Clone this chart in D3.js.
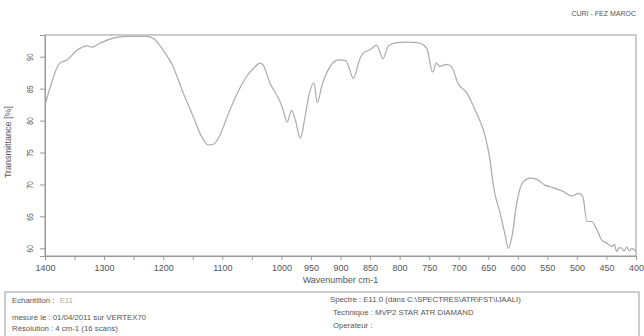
<!DOCTYPE html>
<html><head><meta charset="utf-8">
<script src="https://cdn.jsdelivr.net/npm/d3@7"></script>
<style>
body{margin:0;background:#fff;}
svg text{font-family:"Liberation Sans",Arial,sans-serif;fill:#555;}
</style></head>
<body><svg id="c" width="644" height="336"></svg>
<script>
const wavenumbers = [1400,1391,1375,1363,1346,1329,1321,1307,1285,1262,1228,1217,1200,1183,1166,1149,1135,1124,1115,1104,1093,1076,1059,1047,1036,1031,1019,1002,997,990,983,977,968,960,954,945,939,932,918,904,891,878,868,861,850,839,828,819,805,788,771,765,754,744,738,732,720,712,701,686,672,667,655,647,641,630,622,616,610,602,591,579,568,554,540,523,509,497,490,483,475,466,458,449,441,436,433,428,424,420,416,411,407,402,400];
const transmittance = [82.4,85.3,89.0,89.5,91.0,91.7,91.5,92.1,92.9,93.2,93.2,92.9,91.0,88.4,84.3,80.6,77.5,76.2,76.3,77.7,80.3,84.0,86.9,88.2,89.0,88.7,85.8,82.9,81.6,79.8,81.6,80.3,77.2,80.6,83.7,85.9,82.8,85.3,88.4,89.5,89.4,86.6,89.5,90.6,91.1,91.8,89.7,91.7,92.2,92.3,92.2,92.1,91.3,87.6,89.0,88.5,88.8,88.4,85.8,84.3,81.6,80.6,77.5,73.8,69.6,65.5,62.3,60.0,61.8,67.0,70.4,71.0,70.8,69.9,69.5,68.9,68.2,68.6,68.1,64.2,64.2,62.9,61.3,60.8,60.3,60.6,59.5,60.1,60.0,59.6,60.2,59.6,60.0,59.7,59.5];
const xTickValues = [1400,1350,1300,1250,1200,1150,1100,1050,1000,950,900,850,800,750,700,650,600,550,500,450,400];
const xTickLabels = [1400,1300,1200,1100,1000,950,900,850,800,750,700,650,600,550,500,450,400];
const yTickValues = [60,65,70,75,80,85,90];
const headerText = "CURI - FEZ MAROC";
const footerLeft = [["Echantillon : ", "E11"], ["mesuré le : 01/04/2011 sur VERTEX70"], ["Résolution : 4 cm-1 (16 scans)"]];
const footerRight = ["Spectre : E11.0 (dans C:\\SPECTRES\\ATR\\FST\\IJAALI)", "Technique : MVP2 STAR ATR DIAMAND", "Operateur :"];

const svg = d3.select("#c");
const L=45, R=636, T=35, B=256;
const x = d3.scaleLinear().domain([1400,400]).range([L,R]);
const y = d3.scaleLinear().domain([58.8,93.4]).range([B,T]);

// header
svg.append("text").attr("x",636).attr("y",16).attr("text-anchor","end").attr("font-size",7).text(headerText);

// frame
svg.append("rect").attr("x",L).attr("y",T).attr("width",R-L).attr("height",B-T)
  .attr("fill","none").attr("stroke","#999").attr("stroke-width",1);

// x axis
const xa = svg.append("g").attr("transform",`translate(0,${B})`)
  .call(d3.axisBottom(x).tickValues(xTickValues).tickSize(4).tickFormat(d=>xTickLabels.includes(d)?d:""));
xa.select(".domain").attr("stroke","#999");
xa.selectAll(".tick line").attr("stroke","#999");
xa.selectAll(".tick text").attr("font-size",9).attr("fill","#555").attr("dy","0.95em").attr("y",6)
  .attr("font-family","Liberation Sans, Arial, sans-serif");

// y axis
const ya = svg.append("g").attr("transform",`translate(${L},0)`)
  .call(d3.axisLeft(y).tickValues(yTickValues).tickSize(5).tickFormat(d3.format("d")));
ya.select(".domain").attr("stroke","#999");
ya.selectAll(".tick line").attr("stroke","#999");
ya.selectAll(".tick text").attr("font-size",9).attr("fill","#555")
  .attr("font-family","Liberation Sans, Arial, sans-serif")
  .attr("x",null).attr("dy",null)
  .attr("text-anchor","middle")
  .attr("transform","translate(-15,0) rotate(-90) scale(0.75,1) translate(0,3.2)");

// axis titles
svg.append("text").attr("x",(L+R)/2).attr("y",283).attr("text-anchor","middle").attr("font-size",9).text("Wavenumber cm-1");
svg.append("text").attr("transform","translate(11,142) rotate(-90)").attr("text-anchor","middle").attr("font-size",9).text("Transmittance [%]");

// curve
const data = wavenumbers.map((w,i)=>({w, t:transmittance[i]}));
svg.append("path").datum(data)
  .attr("fill","none").attr("stroke","#aaa").attr("stroke-width",1.2)
  .attr("d", d3.line().x(d=>x(d.w)).y(d=>y(d.t)).curve(d3.curveMonotoneX));

// footer box
svg.append("rect").attr("x",5).attr("y",292).attr("width",634).attr("height",60)
  .attr("fill","none").attr("stroke","#999");
const fl = [303, 320, 331];
footerLeft.forEach((row,i)=>{
  const t = svg.append("text").attr("x",12).attr("y",fl[i]).attr("font-size",7.8);
  t.append("tspan").text(row[0]);
  if(row[1]) t.append("tspan").attr("fill","#aaa").attr("dx",3).text(row[1]);
});
const fr = [[330,302],[333,315],[333,328]];
footerRight.forEach((s,i)=>{
  svg.append("text").attr("x",fr[i][0]).attr("y",fr[i][1]).attr("font-size",7.8).text(s);
});
</script></body></html>
